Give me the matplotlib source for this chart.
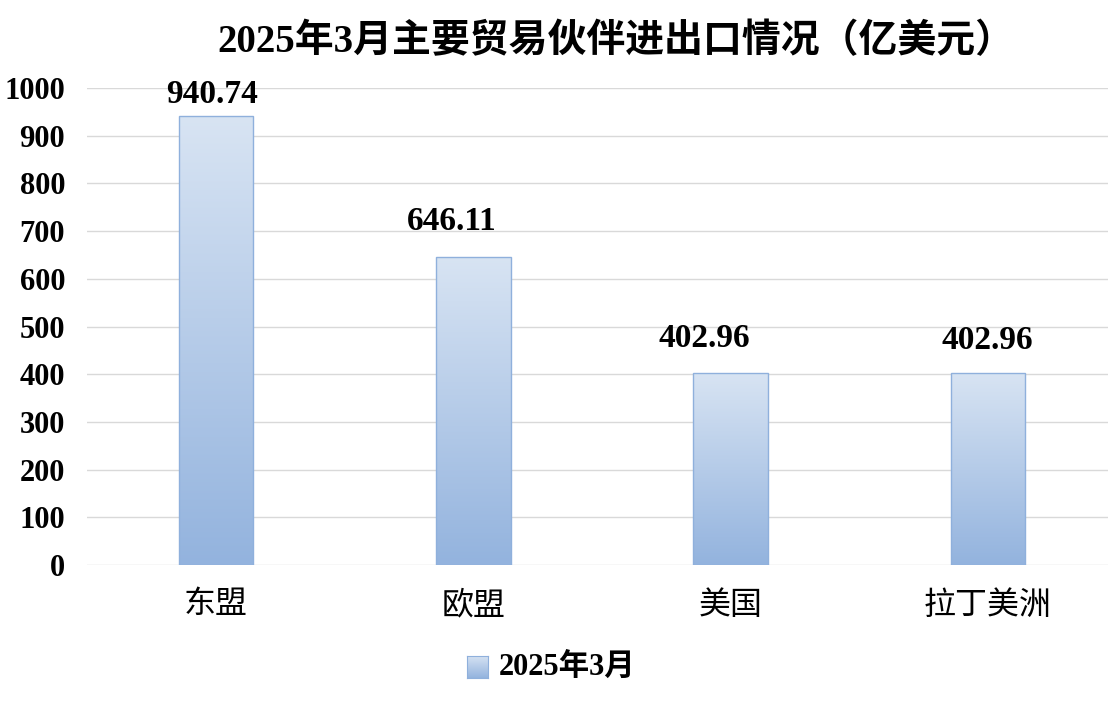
import matplotlib
matplotlib.use("Agg")
import matplotlib.pyplot as plt
import numpy as np
from matplotlib.colors import LinearSegmentedColormap

plt.rcParams['font.family'] = ['Liberation Serif', 'Noto Sans CJK SC', 'DejaVu Sans']

categories = ["东盟", "欧盟", "美国", "拉丁美洲"]
values = [940.74, 646.11, 402.96, 402.96]
series_name = "2025年3月"
title = "2025年3月主要贸易伙伴进出口情况（亿美元）"
yticks = [0, 100, 200, 300, 400, 500, 600, 700, 800, 900, 1000]

# label offsets from bar top centre, in pixels (labels were hand-placed)
label_dx = [-4, -21, -26, -1]
label_dy = [22, 35, 34, 32]

top_col = "#d8e4f3"
bot_col = "#93b3de"
edge_col = "#8fb0dc"
cmap = LinearSegmentedColormap.from_list("grad", [bot_col, top_col])

fig = plt.figure(figsize=(11.08, 7.14), dpi=100)
ax = fig.add_axes([87.3 / 1108, 0.2087, 1029.2 / 1108, 0.668])

x = np.arange(len(categories))
bars = ax.bar(x, values, width=0.29, color="none", edgecolor=edge_col, linewidth=1, zorder=3)

grad = np.linspace(0, 1, 256).reshape(-1, 1)
for i, b in enumerate(bars):
    x0, y0 = b.get_x(), b.get_y()
    w, h = b.get_width(), b.get_height()
    im = ax.imshow(grad, cmap=cmap, origin="lower", aspect="auto",
                   extent=[x0, x0 + w, y0, y0 + h], zorder=2)
    im.set_clip_path(b)
    ax.annotate(f"{h:.2f}", (x0 + w / 2, h),
                xytext=(label_dx[i] * 0.72, label_dy[i] * 0.72),
                textcoords="offset points", ha="center", va="center",
                fontsize=24, fontweight="bold", zorder=4)

ax.set_xlim(-0.5, len(categories) - 0.5)
ax.set_ylim(0, 1000)
ax.set_yticks(yticks)
ax.set_yticklabels([str(t) for t in yticks], fontsize=22, fontweight="bold")
ax.set_xticks(x)
ax.set_xticklabels(categories, fontsize=23)
ax.tick_params(axis="y", length=0, pad=16)
ax.tick_params(axis="x", length=0, pad=19)
ax.grid(axis="y", color="#d9d9d9", linewidth=1, zorder=0)
ax.set_axisbelow(True)
for s in ax.spines.values():
    s.set_visible(False)

fig.text(0.556, 0.94, title, ha="center", va="center", fontsize=28, fontweight="bold")

# legend
lx, ly = 0.4215, 0.05
lw, lh = 0.019, 0.031
lax = fig.add_axes([lx, ly, lw, lh])
lax.imshow(grad, cmap=cmap, origin="lower", aspect="auto", extent=[0, 1, 0, 1])
lax.set_xticks([])
lax.set_yticks([])
for s in lax.spines.values():
    s.set_color(edge_col)
fig.text(lx + lw + 0.01, ly + lh / 2, series_name, ha="left", va="center",
         fontsize=22, fontweight="bold")

fig.savefig("out.png", dpi=100)
